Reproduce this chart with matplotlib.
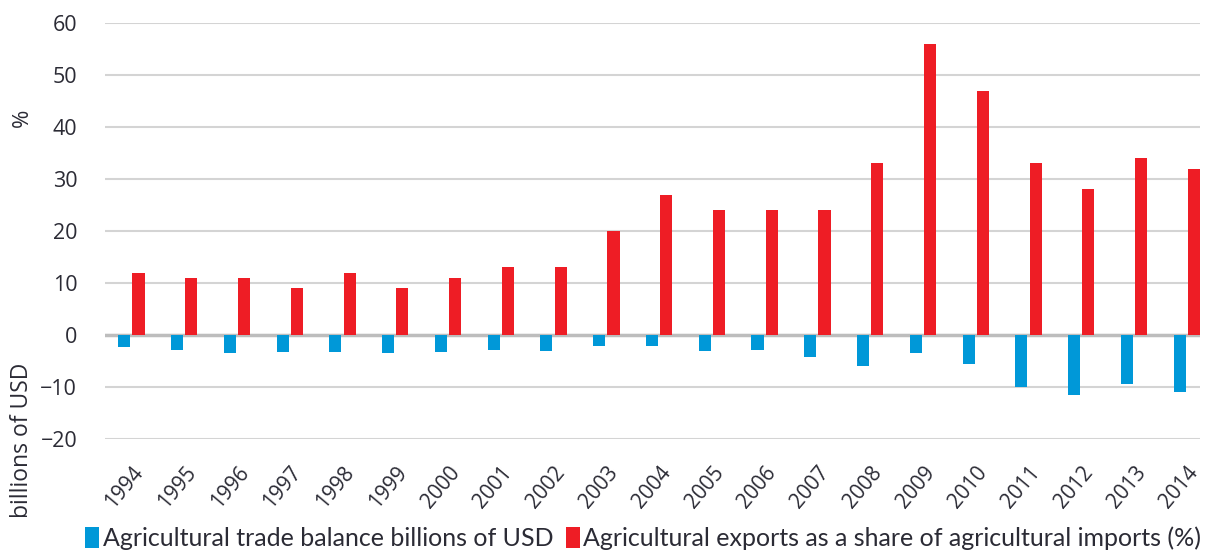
import matplotlib

matplotlib.use("Agg")
import matplotlib.pyplot as plt
import numpy as np

YEARS = [str(y) for y in range(1994, 2015)]
TRADE_BALANCE = [-2.4, -2.9, -3.5, -3.3, -3.3, -3.4, -3.3, -2.9, -3.1, -2.1,
                 -2.1, -3.0, -2.9, -4.2, -6.0, -3.4, -5.5, -10.0, -11.5, -9.5, -11.0]
EXPORT_SHARE = [12, 11, 11, 9, 12, 9, 11, 13, 13, 20,
                27, 24, 24, 24, 33, 56, 47, 33, 28, 34, 32]
LABELS = ["Agricultural trade balance billions of USD",
          "Agricultural exports as a share of agricultural imports (%)"]

BLUE, RED, GRID, TXT = "#0098d8", "#ee1d25", "#d4d4d4", "#2b2b35"

fig = plt.figure(figsize=(12.16, 5.54), dpi=100)
ax = fig.add_axes([105 / 1216, 1 - 439 / 554, 1095 / 1216, 416 / 554])

x = np.arange(len(YEARS))
w = 0.23
ax.bar(x - 0.135, TRADE_BALANCE, w, color=BLUE, label=LABELS[0], zorder=3)
ax.bar(x + 0.135, EXPORT_SHARE, w, color=RED, label=LABELS[1], zorder=3)

ax.set_ylim(-20, 60)
ax.set_xlim(-0.5, 20.25)
ax.set_yticks(range(-20, 61, 10))
ax.yaxis.grid(True, color=GRID, linewidth=1.5, zorder=0)
ax.axhline(0, color="#bdbdbd", linewidth=2.5, zorder=2)
for s in ax.spines.values():
    s.set_visible(False)
ax.tick_params(length=0)
ax.tick_params(axis="y", labelsize=15.5, pad=20)
for t in ax.get_yticklabels():
    t.set_family("Open Sans")
    t.set_color(TXT)
ax.set_xticks(x)
ax.set_xticklabels(YEARS, rotation=50, ha="right", rotation_mode="anchor",
                   fontsize=15, family="Open Sans", color=TXT)
ax.tick_params(axis="x", pad=17)

fig.text(22 / 1216, 1 - 118 / 554, "%", rotation=90, ha="center", va="center",
         fontsize=16, family="Open Sans", color=TXT)
fig.text(22 / 1216, 1 - 440 / 554, "billions of USD", rotation=90, ha="center",
         va="center", fontsize=16.5, family="Open Sans", color=TXT)

fig.legend(loc="center", bbox_to_anchor=(0.529, 1 - 538 / 554), ncol=2,
           frameon=False, handlelength=0.55, handleheight=0.9, handletextpad=0.15,
           columnspacing=0.5, prop={"family": "Lato", "size": 18},
           labelcolor=TXT)

fig.savefig("out.png", dpi=100)
